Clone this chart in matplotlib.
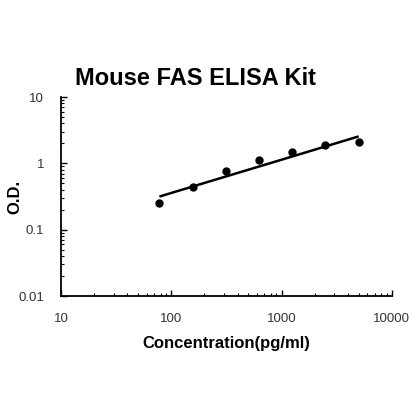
import matplotlib
matplotlib.use("Agg")
import matplotlib.pyplot as plt
from matplotlib.ticker import LogLocator, FixedLocator, NullFormatter

plt.rcParams['font.family'] = ['Liberation Sans', 'DejaVu Sans']

conc = [78.125, 156.25, 312.5, 625, 1250, 2500, 5000]
od = [0.254, 0.438, 0.774, 1.11, 1.50, 1.89, 2.08]
fit_od = [0.316, 0.448, 0.634, 0.897, 1.27, 1.80, 2.55]

title = "Mouse FAS ELISA Kit"
xlabel = "Concentration(pg/ml)"
ylabel = "O.D."
xticks = [10, 100, 1000, 10000]
xticklabels = ["10", "100", "1000", "10000"]
yticks = [0.01, 0.1, 1, 10]
yticklabels = ["0.01", "0.1", "1", "10"]

fig = plt.figure(figsize=(4.2, 4.2), dpi=100)
ax = fig.add_axes([0.145, 0.295, 0.788, 0.474])
ax.set_xscale('log')
ax.set_yscale('log')
ax.set_xlim(10, 10000)
ax.set_ylim(0.01, 10)

ax.plot(conc, fit_od, color='black', lw=1.8, solid_capstyle='butt')
ax.plot(conc, od, 'o', color='black', markersize=5)

for s in ['top', 'right']:
    ax.spines[s].set_visible(False)
for s in ['left', 'bottom']:
    ax.spines[s].set_linewidth(1.3)

ax.xaxis.set_major_locator(FixedLocator(xticks))
ax.set_xticklabels(xticklabels)
ax.yaxis.set_major_locator(FixedLocator(yticks))
ax.set_yticklabels(yticklabels)
ax.xaxis.set_minor_locator(LogLocator(base=10, subs=range(2, 10)))
ax.yaxis.set_minor_locator(LogLocator(base=10, subs=range(2, 10)))
ax.xaxis.set_minor_formatter(NullFormatter())
ax.yaxis.set_minor_formatter(NullFormatter())

ax.tick_params(which='major', direction='in', length=4, width=1, colors='black',
               labelsize=9.5, labelcolor='#333333')
ax.tick_params(which='minor', direction='in', length=2.5, width=0.8, colors='black')
ax.tick_params(axis='x', which='major', pad=12)
ax.tick_params(axis='y', which='major', pad=12)

ax.set_title(title, fontsize=17, fontweight='bold', pad=9, x=0.408)
ax.set_xlabel(xlabel, fontsize=12, fontweight='bold')
ax.set_ylabel(ylabel, fontsize=12, fontweight='bold')
ax.xaxis.set_label_coords((226 - 61) / 331, -(336 - 296) / 199)
ax.yaxis.set_label_coords(-(61 - 22) / 331, 0.5)

fig.savefig("out.png", dpi=100)
